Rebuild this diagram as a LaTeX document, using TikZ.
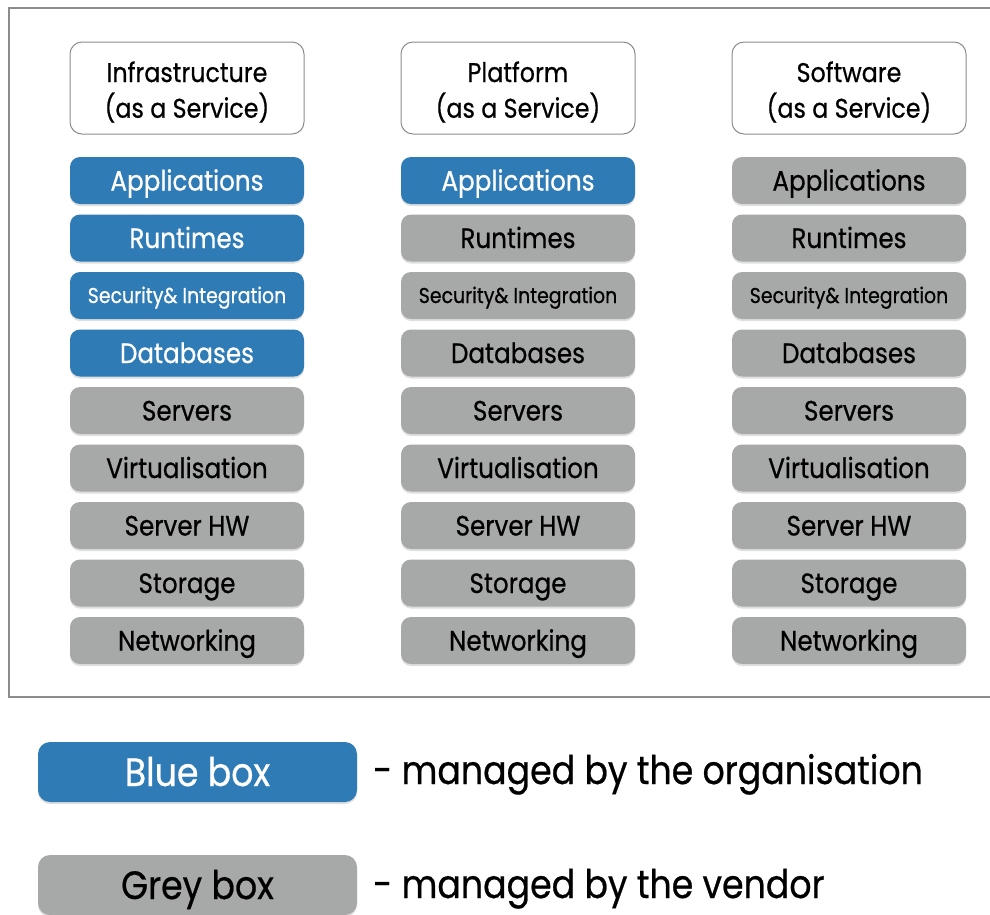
\documentclass[tikz,border=0pt]{standalone}
\usepackage{fontspec}
\setmainfont{Poppins}[FakeStretch=0.88, FakeBold=0.6]
\usetikzlibrary{shadows}
\definecolor{cblue}{HTML}{2F7BB5}
\definecolor{cgrey}{HTML}{A7A9A8}
\definecolor{cframe}{HTML}{8C8C8C}
\newcommand{\hdrtext}[2]{\begin{tabular}[t]{@{}c@{}}#1\\#2\end{tabular}}
\tikzset{
  layer/.style={rounded corners=10pt, minimum width=234pt, minimum height=47pt, inner sep=0pt,
    font=\fontsize{28}{30}\selectfont, text height=23pt, text depth=3pt,
    drop shadow={shadow xshift=0pt, shadow yshift=-2pt, opacity=0.25}},
  org/.style={layer, fill=cblue, text=white},
  ven/.style={layer, fill=cgrey, text=black},
  small/.style={font=\fontsize{21.5}{24}\selectfont, text height=20.5pt, text depth=5.5pt},
  header/.style={rounded corners=12pt, minimum width=234pt, minimum height=92pt, inner sep=0pt,
    draw=cframe, line width=1pt, fill=white, text height=20pt, text depth=32pt,
    font=\fontsize{27}{35}\selectfont},
  legbox/.style={rounded corners=12pt, minimum width=319pt, minimum height=60pt, inner sep=0pt,
    font=\fontsize{39.5}{42}\selectfont, text height=44pt, text depth=16pt,
    drop shadow={shadow xshift=0pt, shadow yshift=-2pt, opacity=0.25}},
  legtext/.style={anchor=base west, inner sep=0pt, font=\fontsize{39.5}{42}\selectfont}
}
\begin{document}
\begin{tikzpicture}[x=1pt,y=-1pt]
\useasboundingbox (0,0) rectangle (990,914);
\fill[white] (0,0) rectangle (990,914);
\coordinate (ftr) at (990,8);
\coordinate (ftl) at (9,8);
\coordinate (fbl) at (9,697);
\coordinate (fbr) at (990,697);
\draw[cframe, line width=1.5pt] (ftr) -- (ftl) -- (fbl) -- (fbr);

% headers
\node[header] (h1) at (187,88) {\hdrtext{Infrastructure}{(as a Service)}};
\node[header] (h2) at (518,88) {\hdrtext{Platform}{(as a Service)}};
\node[header] (h3) at (849,88) {\hdrtext{Software}{(as a Service)}};

% column 1 (IaaS)
\node[org] (a1) at (187,180.5) {Applications};
\node[org] (r1) at (187,238) {Runtimes};
\node[org,small] (s1) at (187,295.5) {Security\& Integration};
\node[org] (d1) at (187,353) {Databases};
\node[ven] (sv1) at (187,410.5) {Servers};
\node[ven] (v1) at (187,468) {Virtualisation};
\node[ven] (hw1) at (187,525.5) {Server HW};
\node[ven] (st1) at (187,583) {Storage};
\node[ven] (n1) at (187,640.5) {Networking};

% column 2 (PaaS)
\node[org] (a2) at (518,180.5) {Applications};
\node[ven] (r2) at (518,238) {Runtimes};
\node[ven,small] (s2) at (518,295.5) {Security\& Integration};
\node[ven] (d2) at (518,353) {Databases};
\node[ven] (sv2) at (518,410.5) {Servers};
\node[ven] (v2) at (518,468) {Virtualisation};
\node[ven] (hw2) at (518,525.5) {Server HW};
\node[ven] (st2) at (518,583) {Storage};
\node[ven] (n2) at (518,640.5) {Networking};

% column 3 (SaaS)
\node[ven] (a3) at (849,180.5) {Applications};
\node[ven] (r3) at (849,238) {Runtimes};
\node[ven,small] (s3) at (849,295.5) {Security\& Integration};
\node[ven] (d3) at (849,353) {Databases};
\node[ven] (sv3) at (849,410.5) {Servers};
\node[ven] (v3) at (849,468) {Virtualisation};
\node[ven] (hw3) at (849,525.5) {Server HW};
\node[ven] (st3) at (849,583) {Storage};
\node[ven] (n3) at (849,640.5) {Networking};

% legend
\node[legbox, fill=cblue, text=white] (lb) at (197.5,772) {Blue box};
\node[legtext] (lbt) at (373,784) {- managed by the organisation};
\node[legbox, fill=cgrey, text=black] (lg) at (197.5,885) {Grey box};
\node[legtext] (lgt) at (373,898) {- managed by the vendor};
\end{tikzpicture}
\end{document}
